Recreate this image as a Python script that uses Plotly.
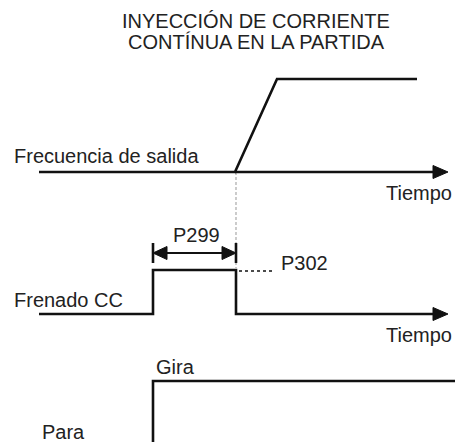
import plotly.graph_objects as go

# diagram coordinates in pixels (x to the right, y downwards)
freq_x = [39, 235, 277, 417]
freq_y = [172, 172, 79, 79]
brake_x = [39, 153, 153, 236, 236, 433]
brake_y = [314, 314, 270, 270, 314, 314]
run_x = [153, 153, 455]
run_y = [442, 381, 381]
axis1_x = [235, 433]
axis1_y = [172, 172]
marker_x = [236, 236]
marker_y = [172, 268]
p302_x = [239, 273]
p302_y = [271, 271]
span_x = [160, 229]
span_y = [253, 253]
tick_y = [243, 263]

labels = [
    ("INYECCIÓN DE CORRIENTE", 256, 21, "center"),
    ("CONTÍNUA EN LA PARTIDA", 256, 42, "center"),
    ("Frecuencia de salida", 12, 156, "left"),
    ("Tiempo", 454, 193, "right"),
    ("P299", 196, 235, "center"),
    ("P302", 279, 263, "left"),
    ("Frenado CC", 12, 300, "left"),
    ("Tiempo", 454, 335, "right"),
    ("Gira", 154, 367, "left"),
    ("Para", 40, 432, "left"),
]

black = "#111111"
fig = go.Figure()


def line(xs, ys, width=2.6, color=black, dash="solid"):
    fig.add_trace(go.Scatter(x=xs, y=ys, mode="lines", hoverinfo="skip",
                             line=dict(color=color, width=width, dash=dash)))


def tri(tip_x, tip_y, direction, length=15, half=6.5):
    base = tip_x - direction * length
    fig.add_trace(go.Scatter(x=[tip_x, base, base, tip_x], y=[tip_y, tip_y - half, tip_y + half, tip_y],
                             mode="lines", fill="toself", fillcolor=black, hoverinfo="skip",
                             line=dict(color=black, width=1)))


line(marker_x, marker_y, width=1.2, color="#aaaaaa", dash="3px,2px")
line(freq_x, freq_y)
line(axis1_x, axis1_y)
line(brake_x, brake_y)
line(run_x, run_y)
line(p302_x, p302_y, width=1.6, dash="3px,3px")
line(span_x, span_y, width=2.2)
line([153, 153], tick_y, width=2.6)
line([236, 236], tick_y, width=2.6)
tri(448, 172, 1)
tri(448, 314, 1)
tri(153, 253, -1, length=14, half=6.5)
tri(236, 253, 1, length=14, half=6.5)

for text, x, y, anchor in labels:
    fig.add_annotation(x=x, y=y, text=text, showarrow=False, xanchor=anchor, yanchor="middle",
                       align="center", font=dict(size=20, color="#222222"))

fig.update_layout(
    width=455, height=442, margin=dict(l=0, r=0, t=0, b=0),
    paper_bgcolor="white", plot_bgcolor="white", showlegend=False,
    font=dict(family="Liberation Sans, Arial, sans-serif"),
    xaxis=dict(range=[0, 455], visible=False, fixedrange=True),
    yaxis=dict(range=[442, 0], visible=False, fixedrange=True),
)

# drop the default 8px body margin so the figure fills the window exactly
fig.write_html("out.html", config={"displayModeBar": False},
               post_script="document.body.style.margin='0';document.body.style.overflow='hidden';")
